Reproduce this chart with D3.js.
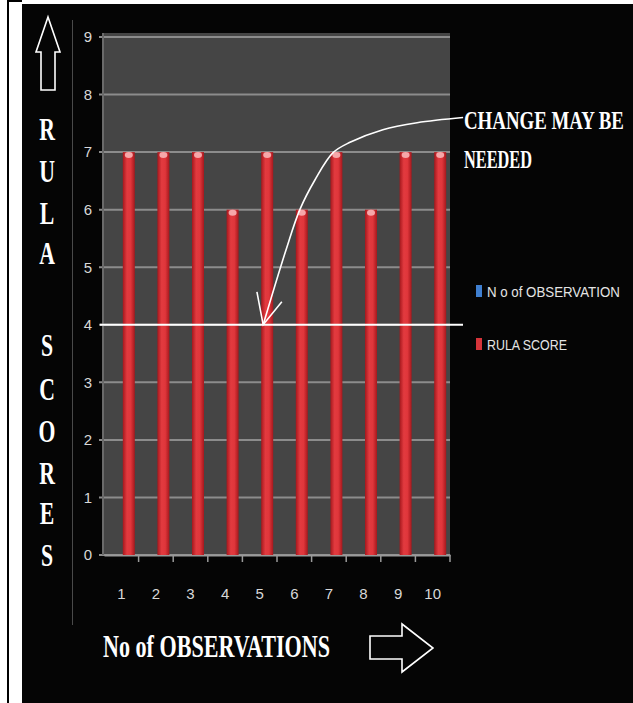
<!DOCTYPE html>
<html>
<head>
<meta charset="utf-8">
<script src="https://cdn.jsdelivr.net/npm/d3@7"></script>
<style>
  html, body { margin: 0; padding: 0; background: #ffffff; }
</style>
</head>
<body>
<div id="main-chart-container"></div>
<script>
const observations = ['1', '2', '3', '4', '5', '6', '7', '8', '9', '10']
const rulaScores = [7, 7, 7, 6, 7, 6, 7, 6, 7, 7]
const yTicks = [0, 1, 2, 3, 4, 5, 6, 7, 8, 9]
const seriesNames = ['N o of OBSERVATION', 'RULA SCORE']
const seriesColors = ['#3f7fd0', '#d6343a']
const actionLevel = 4
const noteLines = ['CHANGE MAY BE', 'NEEDED']
// annotation arrow, in [category position, score] units
const notePath = [
  [10.88, 7.6], [9.55, 7.51], [8.56, 7.39], [7.61, 7.17], [7.12, 6.99],
  [6.6, 6.52], [6.16, 6.0], [5.76, 5.3], [5.1, 4.0],
]
const noteHead = [[4.92, 4.57], [5.1, 4.0], [5.64, 4.4]]

const width = 633
const height = 703

const margin = {
  left: 104,
  right: 183,
  top: 37,
  bottom: 148,
}

const root = d3.select('#main-chart-container')

const chartSvg = root
  .append('svg')
  .attr('width', width)
  .attr('height', height)
  .style('display', 'block')

// squeeze a text horizontally to a target width
function fitText(selection, x, y, targetWidth) {
  const natural = selection.node().getComputedTextLength()
  selection.attr(
    'transform',
    `translate(${x}, ${y}) scale(${Math.min(1, targetWidth / natural)}, 1)`,
  )
}

// page frame
chartSvg.append('rect').attr('width', width).attr('height', height).attr('fill', '#ffffff')
chartSvg.append('rect').attr('x', 7).attr('y', 0).attr('width', 2).attr('height', height).attr('fill', '#000')
chartSvg.append('rect').attr('x', 7).attr('y', 0).attr('width', 15).attr('height', 2).attr('fill', '#000')
chartSvg.append('rect').attr('x', 22).attr('y', 4).attr('width', width - 22).attr('height', height - 4).attr('fill', '#050505')

chartSvg
  .append('line')
  .attr('x1', 72.5)
  .attr('x2', 72.5)
  .attr('y1', 20)
  .attr('y2', 625)
  .attr('stroke', '#4a4a4a')
  .attr('stroke-width', 1)

const xScale = d3
  .scaleBand()
  .domain(observations)
  .range([margin.left, width - margin.right])

const xPos = d3
  .scaleLinear()
  .domain([0.5, observations.length + 0.5])
  .range([margin.left, width - margin.right])

const yScale = d3
  .scaleLinear()
  .domain([0, 9])
  .range([height - margin.bottom, margin.top])

// plot background
chartSvg
  .append('rect')
  .attr('x', margin.left)
  .attr('y', margin.top - 4)
  .attr('width', width - margin.left - margin.right)
  .attr('height', height - margin.bottom - margin.top + 4)
  .attr('fill', '#454545')

yTicks.forEach(y => {
  chartSvg
    .append('line')
    .attr('x1', margin.left - 5)
    .attr('x2', width - margin.right)
    .attr('y1', yScale(y))
    .attr('y2', yScale(y))
    .attr('stroke', '#8c8c8c')
    .attr('stroke-width', 2)
})

chartSvg
  .append('line')
  .attr('x1', margin.left - 1)
  .attr('x2', margin.left - 1)
  .attr('y1', margin.top - 4)
  .attr('y2', yScale(0))
  .attr('stroke', '#6a6a6a')
  .attr('stroke-width', 2)

const yAxis = d3.axisLeft(yScale).tickValues(yTicks).tickSize(0).tickPadding(12)

const yAxisGroup = chartSvg
  .append('g')
  .attr('transform', `translate(${margin.left}, 0)`)
  .call(yAxis)

yAxisGroup.select('.domain').remove()
yAxisGroup
  .selectAll('text')
  .attr('fill', '#d8d8d8')
  .attr('font-family', 'Liberation Sans Narrow, Liberation Sans, sans-serif')
  .attr('font-size', 15)

const xAxis = d3.axisBottom(xScale).tickSize(0).tickPadding(33)

const xAxisGroup = chartSvg
  .append('g')
  .attr('transform', `translate(0, ${yScale(0)})`)
  .call(xAxis)

xAxisGroup.select('.domain').attr('stroke', '#9a9a9a').attr('stroke-width', 2)
xAxisGroup
  .selectAll('text')
  .attr('fill', '#d8d8d8')
  .attr('font-family', 'Liberation Sans Narrow, Liberation Sans, sans-serif')
  .attr('font-size', 15)

observations.forEach((_, index) => {
  const tickX = xPos(index + 1.5)
  chartSvg
    .append('line')
    .attr('x1', tickX)
    .attr('x2', tickX)
    .attr('y1', yScale(0))
    .attr('y2', yScale(0) + 7)
    .attr('stroke', '#9a9a9a')
    .attr('stroke-width', 1.5)
})

const defs = chartSvg.append('defs')

const barGradient = defs
  .append('linearGradient')
  .attr('id', 'bar-gradient')
  .attr('x1', '0%')
  .attr('x2', '100%')

barGradient.append('stop').attr('offset', '0%').attr('stop-color', '#a5181d')
barGradient.append('stop').attr('offset', '35%').attr('stop-color', '#e23a3f')
barGradient.append('stop').attr('offset', '65%').attr('stop-color', '#e0363b')
barGradient.append('stop').attr('offset', '100%').attr('stop-color', '#a5181d')

const barWidth = 12

const barGroup = chartSvg.append('g')

rulaScores.forEach((score, index) => {
  const barX = xScale(observations[index]) + xScale.bandwidth() / 2 + 1.5

  barGroup
    .append('rect')
    .attr('x', barX)
    .attr('y', yScale(score))
    .attr('width', barWidth)
    .attr('height', yScale(0) - yScale(score))
    .attr('fill', 'url(#bar-gradient)')

  barGroup
    .append('ellipse')
    .attr('cx', barX + barWidth / 2)
    .attr('cy', yScale(score) + 3)
    .attr('rx', 4)
    .attr('ry', 3)
    .attr('fill', '#f6a7a9')
})

// action level line
chartSvg
  .append('line')
  .attr('x1', margin.left - 4)
  .attr('x2', width - margin.right + 13)
  .attr('y1', yScale(actionLevel))
  .attr('y2', yScale(actionLevel))
  .attr('stroke', '#ffffff')
  .attr('stroke-width', 2)

const noteLine = d3
  .line()
  .curve(d3.curveCatmullRom)
  .x(([c]) => xPos(c))
  .y(([, v]) => yScale(v))

chartSvg
  .append('path')
  .attr('d', noteLine(notePath))
  .attr('fill', 'none')
  .attr('stroke', '#ffffff')
  .attr('stroke-width', 1.6)

chartSvg
  .append('path')
  .attr('d', d3.line().x(([c]) => xPos(c)).y(([, v]) => yScale(v))(noteHead))
  .attr('fill', 'none')
  .attr('stroke', '#ffffff')
  .attr('stroke-width', 1.6)

const noteText = chartSvg
  .append('g')
  .attr('font-family', 'Liberation Serif, serif')
  .attr('font-weight', 'bold')
  .attr('font-size', 26)
  .attr('fill', '#ffffff')

noteText
  .append('text')
  .text(noteLines[0])
  .call(fitText, 464, 129, 160)

noteText
  .append('text')
  .text(noteLines[1])
  .call(fitText, 464, 168, 68)

// legend
const legend = chartSvg.append('g')
const legendY = [292, 345]
const legendWidths = [133, 80]

seriesNames.forEach((name, index) => {
  legend
    .append('rect')
    .attr('x', 476)
    .attr('y', legendY[index] - 7)
    .attr('width', 6)
    .attr('height', 12)
    .attr('fill', seriesColors[index])

  legend
    .append('text')
    .attr('fill', '#e4e4e4')
    .attr('font-family', 'Liberation Sans Narrow, Liberation Sans, sans-serif')
    .attr('font-size', 15)
    .text(name)
    .call(fitText, 487, legendY[index] + 5, legendWidths[index])
})

// vertical y-axis title
const yTitleLetters = ['R', 'U', 'L', 'A', 'S', 'C', 'O', 'R', 'E', 'S']
const yTitleBaselines = [140, 182, 224, 264, 356, 400, 442, 484, 524, 566]

const yTitle = chartSvg
  .append('g')
  .attr('font-family', 'Liberation Serif, serif')
  .attr('font-weight', 'bold')
  .attr('font-size', 32)
  .attr('fill', '#ffffff')

yTitleLetters.forEach((letter, index) => {
  yTitle
    .append('text')
    .attr('transform', `translate(47, ${yTitleBaselines[index]}) scale(0.68, 1)`)
    .attr('text-anchor', 'middle')
    .text(letter)
})

chartSvg
  .append('path')
  .attr('d', 'M48,17 L60,52 L55,52 L55,90 L41,90 L41,52 L36,52 Z')
  .attr('fill', 'none')
  .attr('stroke', '#ffffff')
  .attr('stroke-width', 1.6)

// x-axis title
chartSvg
  .append('text')
  .attr('font-family', 'Liberation Serif, serif')
  .attr('font-weight', 'bold')
  .attr('font-size', 32)
  .attr('fill', '#ffffff')
  .text('No of OBSERVATIONS')
  .call(fitText, 103, 657, 227)

chartSvg
  .append('path')
  .attr('d', 'M370,636 L402,636 L402,624 L433,648 L402,672 L402,659 L370,659 Z')
  .attr('fill', 'none')
  .attr('stroke', '#ffffff')
  .attr('stroke-width', 1.6)
</script>
</body>
</html>
